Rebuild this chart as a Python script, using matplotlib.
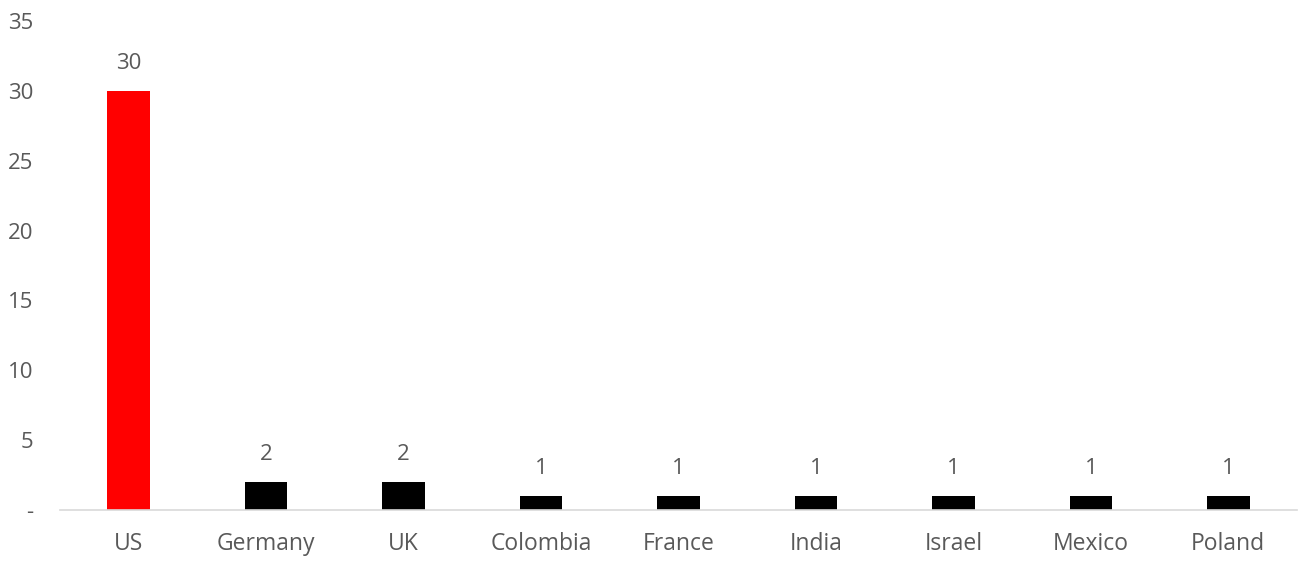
import matplotlib
matplotlib.use("Agg")
import matplotlib.pyplot as plt

countries = ["US", "Germany", "UK", "Colombia", "France", "India", "Israel", "Mexico", "Poland"]
counts = [30, 2, 2, 1, 1, 1, 1, 1, 1]
bar_colors = ["#ff0000"] + ["#000000"] * 8
y_ticks = [0, 5, 10, 15, 20, 25, 30, 35]
y_labels = ["-", "5", "10", "15", "20", "25", "30", "35"]

plt.rcParams["font.family"] = ["Open Sans", "DejaVu Sans"]
grey = "#595959"

fig = plt.figure(figsize=(13.08, 5.62), dpi=100)
ax = fig.add_axes([60 / 1308, 52 / 562, 1237 / 1308, 489 / 562])

x = range(len(countries))
bars = ax.bar(x, counts, width=0.31, color=bar_colors)

for b, v in zip(bars, counts):
    ax.annotate(str(v), (b.get_x() + b.get_width() / 2, v), xytext=(0, 12),
                textcoords="offset points", ha="center", va="bottom",
                fontsize=16, color=grey)

ax.set_xlim(-0.5, len(countries) - 0.5)
ax.set_ylim(0, 35)
ax.set_xticks(list(x))
ax.set_xticklabels(countries, fontsize=16.5, color=grey)
ax.set_yticks(y_ticks)
ax.set_yticklabels(y_labels, fontsize=16, color=grey)
ax.tick_params(length=0)
ax.tick_params(axis="x", pad=16)
ax.tick_params(axis="y", pad=19)

for s in ["top", "right", "left"]:
    ax.spines[s].set_visible(False)
ax.spines["bottom"].set_color("#d9d9d9")
ax.spines["bottom"].set_linewidth(1.2)

fig.savefig("out.png", dpi=100)
